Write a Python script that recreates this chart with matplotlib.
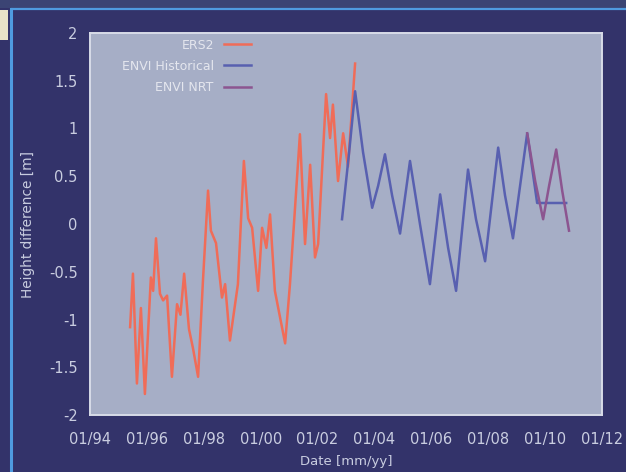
import matplotlib
matplotlib.use("Agg")
import matplotlib.pyplot as plt
from matplotlib.lines import Line2D
from matplotlib.patches import Rectangle

# Decimal-year time axis and height differences in metres
ers2_t = [1995.41, 1995.51, 1995.65, 1995.79, 1995.93, 1996.14, 1996.22, 1996.32,
          1996.46, 1996.57, 1996.71, 1996.88, 1997.06, 1997.18, 1997.31, 1997.48,
          1997.62, 1997.80, 1997.97, 1998.15, 1998.25, 1998.43, 1998.64, 1998.75,
          1998.92, 1999.20, 1999.41, 1999.56, 1999.70, 1999.91, 2000.05, 2000.20,
          2000.33, 2000.50, 2000.86, 2001.03, 2001.38, 2001.56, 2001.74, 2001.91,
          2002.02, 2002.30, 2002.44, 2002.54, 2002.72, 2002.90, 2003.07, 2003.32]
ers2_h = [-1.08, -0.52, -1.67, -0.88, -1.78, -0.56, -0.70, -0.15,
          -0.73, -0.80, -0.75, -1.60, -0.84, -0.95, -0.52, -1.10,
          -1.30, -1.60, -0.60, 0.35, -0.07, -0.20, -0.77, -0.63,
          -1.22, -0.63, 0.66, 0.06, -0.04, -0.70, -0.04, -0.25,
          0.10, -0.70, -1.25, -0.63, 0.94, -0.21, 0.62, -0.35,
          -0.21, 1.36, 0.90, 1.25, 0.45, 0.95, 0.60, 1.68]

envi_hist_t = [2002.86, 2003.11, 2003.32, 2003.60, 2003.92, 2004.13, 2004.37, 2004.62,
               2004.90, 2005.25, 2005.60, 2005.95, 2006.31, 2006.59, 2006.87, 2007.29,
               2007.57, 2007.89, 2008.35, 2008.59, 2008.87, 2009.37, 2009.72, 2010.74]
envi_hist_h = [0.05, 0.75, 1.39, 0.75, 0.17, 0.40, 0.73, 0.30,
               -0.10, 0.66, 0.00, -0.63, 0.31, -0.25, -0.70, 0.57,
               0.05, -0.39, 0.80, 0.30, -0.15, 0.95, 0.22, 0.22]

envi_nrt_t = [2009.37, 2009.65, 2009.93, 2010.14, 2010.39, 2010.60, 2010.84]
envi_nrt_h = [0.95, 0.45, 0.05, 0.40, 0.78, 0.35, -0.07]

x_ticks = [1994, 1996, 1998, 2000, 2002, 2004, 2006, 2008, 2010, 2012]
x_tick_labels = ["01/94", "01/96", "01/98", "01/00", "01/02",
                 "01/04", "01/06", "01/08", "01/10", "01/12"]
y_ticks = [-2, -1.5, -1, -0.5, 0, 0.5, 1, 1.5, 2]
y_tick_labels = ["-2", "-1.5", "-1", "-0.5", "0", "0.5", "1", "1.5", "2"]

BG = "#33336a"
FACE = "#a6aec6"
TXT = "#c9cde0"
C_ERS = "#f06c58"
C_HIST = "#5860b0"
C_NRT = "#8c5590"

fig = plt.figure(figsize=(6.26, 4.72), dpi=100, facecolor=BG)

# slide frame decorations
fig.add_artist(Rectangle((0, 1 - 8 / 472), 1, 8 / 472, transform=fig.transFigure,
                         facecolor="#3b4474", edgecolor="none", zorder=0))
fig.add_artist(Line2D([12 / 626, 1], [1 - 9 / 472, 1 - 9 / 472], transform=fig.transFigure,
                      color="#4f9be0", lw=1.6))
fig.add_artist(Line2D([11 / 626, 11 / 626], [0, 1 - 9 / 472], transform=fig.transFigure,
                      color="#4f9be0", lw=2.2))
fig.add_artist(Rectangle((0, 1 - 40 / 472), 8 / 626, 30 / 472, transform=fig.transFigure,
                         facecolor="#e8e2c8", edgecolor="none"))

ax = fig.add_axes([90 / 626, 1 - 415 / 472, 512 / 626, 382 / 472])
ax.set_facecolor(FACE)

ax.plot(ers2_t, ers2_h, color=C_ERS, lw=1.8, label="ERS2")
ax.plot(envi_hist_t, envi_hist_h, color=C_HIST, lw=1.8, label="ENVI Historical")
ax.plot(envi_nrt_t, envi_nrt_h, color=C_NRT, lw=1.8, label="ENVI NRT")

ax.set_xlim(1994, 2012)
ax.set_ylim(-2, 2)
ax.set_xticks(x_ticks)
ax.set_xticklabels(x_tick_labels)
ax.set_yticks(y_ticks)
ax.set_yticklabels(y_tick_labels)
ax.tick_params(axis="both", length=0, colors=TXT, labelsize=10.5)
ax.tick_params(axis="x", pad=12)
ax.tick_params(axis="y", pad=9)

for s in ax.spines.values():
    s.set_color("#d8dce8")
    s.set_linewidth(1.4)

ax.set_xlabel("Date [mm/yy]", color=TXT, fontsize=9.5, labelpad=6)
ax.set_ylabel("Height difference [m]", color=TXT, fontsize=9.8, labelpad=10)

leg = ax.legend(loc="upper right", bbox_to_anchor=(0.315, 0.985), frameon=False,
                markerfirst=False, fontsize=9, handlelength=2.2, handletextpad=0.8,
                labelspacing=0.65, borderpad=0, borderaxespad=0)
for t in leg.get_texts():
    t.set_color("#e4e6ee")

fig.savefig("out.png", dpi=100, facecolor=BG)
